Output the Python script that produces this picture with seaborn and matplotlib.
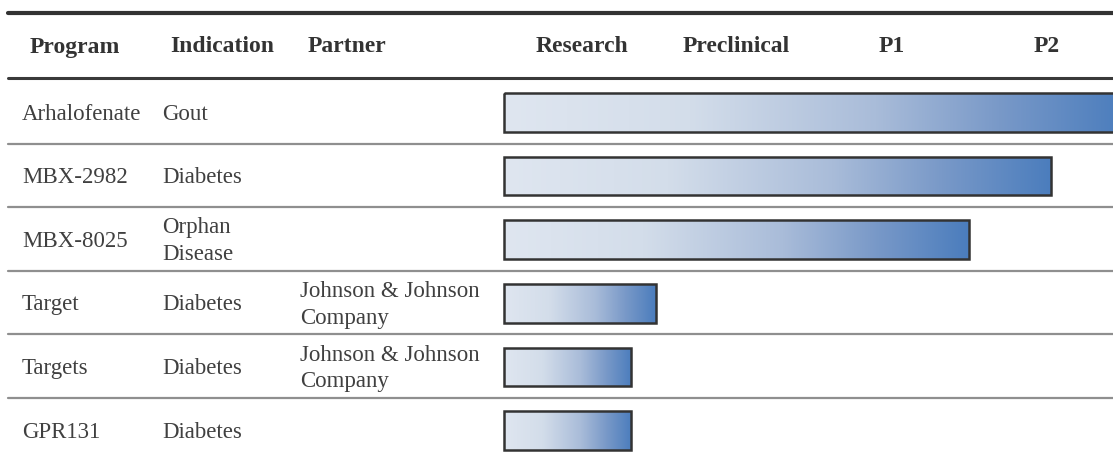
import numpy as np
import pandas as pd
import matplotlib
matplotlib.use("Agg")
import matplotlib.pyplot as plt
from matplotlib.colors import LinearSegmentedColormap
import seaborn as sns

# ---- data ----
programs = ["Arhalofenate", "MBX-2982", "MBX-8025", "Target", "Targets", "GPR131"]
indications = ["Gout", "Diabetes", "Orphan\nDisease", "Diabetes", "Diabetes", "Diabetes"]
partners = ["", "", "", "Johnson & Johnson\nCompany", "Johnson & Johnson\nCompany", ""]
progress = [4.0, 3.53, 3.0, 0.98, 0.82, 0.82]   # in stage units (1 = one stage column)
stages = ["Research", "Preclinical", "P1", "P2"]
col_headers = ["Program", "Indication", "Partner"]

df = pd.DataFrame({"program": programs, "progress": progress})

W, H = 1113, 458
DPI = 100
fig = plt.figure(figsize=(W / DPI, H / DPI), dpi=DPI)
ax = fig.add_axes([0, 0, 1, 1])

sns.set_style("white")
plt.rcParams["font.family"] = ["Liberation Serif", "DejaVu Serif"]

sns.barplot(data=df, x="progress", y="program", orient="h", width=0.61,
            color="none", edgecolor="#333333", linewidth=1.8, ax=ax,
            order=programs)

# pixel -> data mapping
X0, COLW = 504.0, 155.0
Y0, ROWH = 112.5, 63.6
def px_x(p):
    return (p - X0) / COLW
def px_y(p):
    return (p - Y0) / ROWH

ax.set_xlim(px_x(0), px_x(W))
ax.set_ylim(px_y(H), px_y(0))
ax.axis("off")

# gradient fill clipped to each bar
cmap = LinearSegmentedColormap.from_list(
    "grad", [(0.0, "#dfe6f0"), (0.3, "#d3ddea"), (0.6, "#a9bcd9"),
             (0.8, "#7999c8"), (1.0, "#4b7dbd")])
grad = np.linspace(0, 1, 256).reshape(1, -1)
for patch in ax.patches:
    patch.set_facecolor("none")
    patch.set_zorder(3)
    x, y = patch.get_x(), patch.get_y()
    w, h = patch.get_width(), patch.get_height()
    im = ax.imshow(grad, cmap=cmap, aspect="auto",
                   extent=(x, x + w, y + h, y), zorder=2, interpolation="bicubic")
    im.set_clip_path(patch)

# lines
xl = px_x(8)
xr = px_x(W + 5)
ax.plot([xl, xr], [px_y(13), px_y(13)], color="#333333", lw=3.0, zorder=4, clip_on=False)
ax.plot([xl, xr], [px_y(78), px_y(78)], color="#3a3a3a", lw=2.2, zorder=4)
for i in range(len(programs) - 1):
    ax.plot([xl, xr], [i + 0.49, i + 0.49], color="#8f8f8f", lw=1.6, zorder=4)

# headers
hy = px_y(47)
hdr_kw = dict(fontsize=17, fontweight="bold", color="#333333", va="center")
for label, px in zip(col_headers, [30, 170, 308]):
    ax.text(px_x(px), hy, label, ha="left", **hdr_kw)
for k, s in enumerate(stages):
    ax.text(k + 0.5, hy, s, ha="center", **hdr_kw)

# body
body_kw = dict(fontsize=16.5, color="#404040", va="center", linespacing=1.35)
for i in range(len(programs)):
    yy = i + px_y(114) - px_y(112.5)
    ax.text(px_x(22), yy, programs[i], ha="left", **body_kw)
    ax.text(px_x(162), yy, indications[i], ha="left", **body_kw)
    if partners[i]:
        ax.text(px_x(300), yy, partners[i], ha="left", **body_kw)

fig.savefig("out.png", dpi=DPI)
